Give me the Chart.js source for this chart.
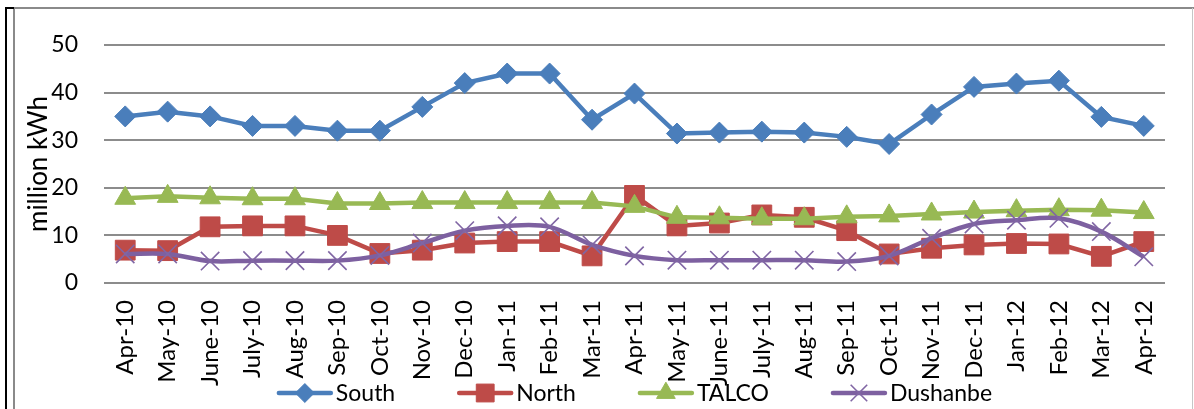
<!DOCTYPE html>
<html>
<head>
<meta charset="utf-8">
<script src="https://cdn.jsdelivr.net/npm/chart.js@4/dist/chart.umd.min.js"></script>
<style>
  html, body { margin: 0; padding: 0; background: #fff; }
  #wrap { width: 1194px; height: 409px; }
</style>
</head>
<body>
<div id="wrap"><canvas id="c" width="1194" height="409"></canvas></div>
<script>
// Monthly electricity consumption, million kWh
const months = ['Apr-10','May-10','June-10','July-10','Aug-10','Sep-10','Oct-10','Nov-10','Dec-10',
  'Jan-11','Feb-11','Mar-11','Apr-11','May-11','June-11','July-11','Aug-11','Sep-11','Oct-11',
  'Nov-11','Dec-11','Jan-12','Feb-12','Mar-12','Apr-12'];
const south    = [35, 36, 35, 33, 33, 32, 32, 37, 42, 44, 44, 34.3, 39.8, 31.4, 31.6, 31.8, 31.6, 30.7, 29.2, 35.4, 41.2, 41.9, 42.5, 34.9, 33];
const north    = [6.9, 6.8, 11.8, 12, 12, 10, 6.2, 6.9, 8.4, 8.7, 8.7, 5.7, 18.4, 12, 12.6, 14.3, 13.8, 11, 6.1, 7.3, 8, 8.3, 8.2, 5.6, 8.7];
const talco    = [17.8, 18.2, 17.9, 17.7, 17.7, 16.7, 16.7, 16.9, 16.9, 16.9, 16.9, 16.9, 16.1, 13.8, 13.7, 13.5, 13.5, 13.9, 14.1, 14.5, 14.9, 15.2, 15.4, 15.3, 14.8];
const dushanbe = [6.1, 6.1, 4.6, 4.7, 4.7, 4.7, 5.8, 8.4, 11, 12, 11.8, 8, 5.7, 4.8, 4.8, 4.8, 4.8, 4.5, 5.7, 9.4, 12.4, 13.2, 13.6, 10.8, 5.5];
const yTicks = [0, 10, 20, 30, 40, 50];

const FONT = 'Lato, "Open Sans", sans-serif';

// White background and the outer frame of the chart object
const framePlugin = {
  id: 'frame',
  beforeDraw(chart) {
    const ctx = chart.ctx, W = chart.width, H = chart.height;
    ctx.save();
    ctx.fillStyle = '#ffffff';
    ctx.fillRect(0, 0, W, H);
    ctx.fillStyle = '#8a8a8a';
    ctx.fillRect(13, 7, W - 13, 2);
    ctx.fillRect(13, 7, 2, H - 7);
    ctx.fillStyle = '#c6c6c6';
    ctx.fillRect(W - 2, 8, 1, H - 8);
    ctx.fillStyle = '#000000';
    ctx.fillRect(5, 7, 2, H - 7);
    ctx.fillRect(5, 7, 9, 2);
    ctx.restore();
  }
};

// Legend row: a short stretch of line with the series marker, then the name
const lineLegend = {
  id: 'lineLegend',
  afterDraw(chart, args, opts) {
    const ctx = chart.ctx, area = chart.chartArea;
    const sets = chart.data.datasets;
    const lineLen = opts.lineLen, gap = opts.gap, spacing = opts.spacing;
    ctx.save();
    ctx.font = opts.font;
    const widths = sets.map(ds => ctx.measureText(ds.label).width);
    let total = spacing * (sets.length - 1);
    widths.forEach(w => { total += lineLen + gap + w; });
    let x = (area.left + area.right) / 2 - total / 2;
    const y = opts.y;
    sets.forEach((ds, i) => {
      ctx.strokeStyle = ds.borderColor;
      ctx.lineWidth = ds.borderWidth;
      ctx.lineCap = 'round';
      ctx.beginPath();
      ctx.moveTo(x + 2, y);
      ctx.lineTo(x + lineLen - 2, y);
      ctx.stroke();
      ctx.lineCap = 'butt';
      ctx.fillStyle = ds.pointBackgroundColor;
      ctx.strokeStyle = ds.pointBorderColor;
      ctx.lineWidth = ds.pointBorderWidth;
      Chart.helpers.drawPoint(ctx, {
        pointStyle: ds.pointStyle,
        radius: ds.pointRadius * 0.9,
        rotation: 0,
        borderWidth: ds.pointBorderWidth
      }, x + lineLen / 2, y);
      ctx.fillStyle = '#000000';
      ctx.textBaseline = 'middle';
      ctx.textAlign = 'left';
      ctx.fillText(ds.label, x + lineLen + gap, y + 1);
      x += lineLen + gap + widths[i] + spacing;
    });
    ctx.restore();
  }
};

const c = document.getElementById('c');
new Chart(c, {
  type: 'line',
  data: {
    labels: months,
    datasets: [
      { label: 'South', data: south, order: 4,
        borderColor: '#4A7EBB', borderWidth: 4.5, tension: 0,
        pointStyle: 'rectRot', pointRadius: 10.5, pointBackgroundColor: '#4A7EBB',
        pointBorderColor: '#4A7EBB', pointBorderWidth: 1 },
      { label: 'North', data: north, order: 3,
        borderColor: '#BE4B48', borderWidth: 4.5, tension: 0,
        pointStyle: 'rect', pointRadius: 14, pointBackgroundColor: '#BE4B48',
        pointBorderColor: '#BE4B48', pointBorderWidth: 1 },
      { label: 'TALCO', data: talco, order: 2,
        borderColor: '#98B954', borderWidth: 4.5, tension: 0,
        pointStyle: 'triangle', pointRadius: 12, pointBackgroundColor: '#98B954',
        pointBorderColor: '#98B954', pointBorderWidth: 1 },
      { label: 'Dushanbe', data: dushanbe, order: 1,
        borderColor: '#7D60A0', borderWidth: 4.5, tension: 0.35,
        pointStyle: 'crossRot', pointRadius: 13, pointBackgroundColor: '#7D60A0',
        pointBorderColor: '#8066A4', pointBorderWidth: 1.6 }
    ]
  },
  options: {
    responsive: false,
    animation: false,
    devicePixelRatio: 1,
    layout: { padding: { left: 0, right: 29, top: 45, bottom: 0 } },
    plugins: {
      legend: { display: false },
      tooltip: { enabled: false },
      lineLegend: { font: '23px ' + FONT, lineLen: 56, gap: 3, spacing: 62, y: 393 }
    },
    scales: {
      x: {
        offset: true,
        grid: { display: false, drawTicks: false },
        border: { display: false },
        ticks: {
          autoSkip: false, maxRotation: 90, minRotation: 90, padding: 17,
          color: '#000', font: { family: FONT, size: 24 }
        },
        afterFit(scale) { scale.height = 126; }
      },
      y: {
        min: 0, max: 50,
        afterBuildTicks(scale) { scale.ticks = yTicks.map(v => ({ value: v })); },
        grid: { color: '#8c8c8c', lineWidth: 2, drawTicks: false },
        border: { display: false },
        ticks: { padding: 26, color: '#000', font: { family: FONT, size: 23 } },
        title: {
          display: true, text: 'million kWh', color: '#000',
          font: { family: FONT, size: 26 }, padding: { top: 23, bottom: 0 }
        },
        afterFit(scale) { scale.width = 104; }
      }
    }
  },
  plugins: [framePlugin, lineLegend]
});
</script>
</body>
</html>
